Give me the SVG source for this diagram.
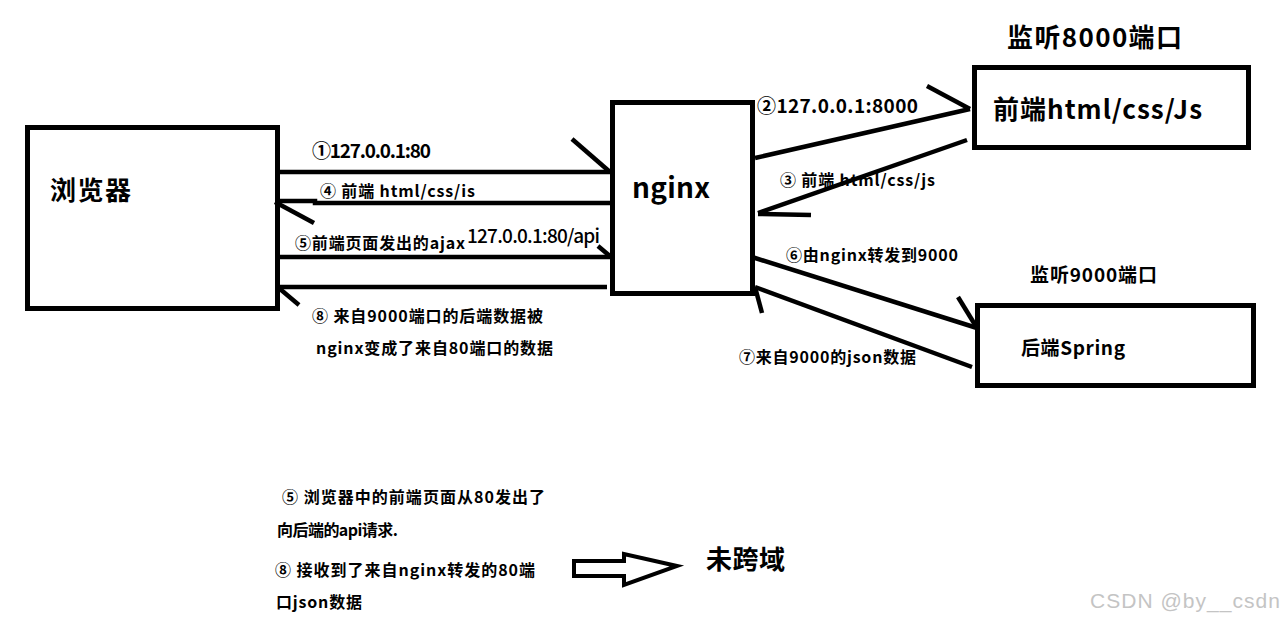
<svg xmlns="http://www.w3.org/2000/svg" width="1284" height="621" viewBox="0 0 1284 621">
<style>
.box{fill:#fff;stroke:#000;stroke-width:5}
.ln{fill:none;stroke:#000;stroke-width:4.5;stroke-linecap:butt}
text{font-family:"Noto Sans CJK SC","Microsoft YaHei",sans-serif;font-weight:bold;fill:#000}
.s{font-size:16px}
.m{font-size:19px}
.l{font-size:26px}
.wm{font-family:"Liberation Sans",Arial,sans-serif;font-weight:normal;font-size:21px;fill:#c4c4c4}
</style>
<rect width="1284" height="621" fill="#fff"/>
<g id="browser">
<rect class="box" x="27.5" y="127.5" width="250" height="181"/>
<text class="l" x="50" y="200" textLength="81">浏览器</text>
</g>
<g id="nginx">
<rect class="box" x="612.5" y="102.5" width="140" height="191"/>
<text style="font-size:28px" x="632" y="198" textLength="78">nginx</text>
</g>
<g id="frontend">
<text class="l" x="1007" y="47" textLength="175">监听8000端口</text>
<rect class="box" x="974.5" y="67.5" width="274" height="80"/>
<text class="l" x="993" y="119" textLength="209">前端html/css/Js</text>
</g>
<g id="backend">
<text class="m" x="1030" y="282" textLength="127">监听9000端口</text>
<rect class="box" x="977.5" y="305.5" width="276" height="80"/>
<text class="m" x="1021" y="355" textLength="104">后端Spring</text>
</g>
<g id="connectors">
<line class="ln" x1="280" y1="172" x2="610" y2="172"/>
<line class="ln" x1="572" y1="139" x2="610" y2="172"/>
<polyline class="ln" points="275,201 315,201 315,203 610,203"/>
<line class="ln" x1="275" y1="202" x2="314" y2="223"/>
<line class="ln" x1="280" y1="257" x2="610" y2="257"/>
<line class="ln" x1="598" y1="246" x2="611" y2="257"/>
<line class="ln" x1="280" y1="287" x2="607" y2="287"/>
<line class="ln" x1="280" y1="289" x2="299" y2="305"/>
<line class="ln" x1="755" y1="158" x2="970" y2="109"/>
<line class="ln" x1="927" y1="86" x2="970" y2="109"/>
<line class="ln" x1="967" y1="140" x2="758" y2="213"/>
<line class="ln" x1="758" y1="214" x2="811" y2="215"/>
<line class="ln" x1="752" y1="257" x2="977" y2="328"/>
<line class="ln" x1="958" y1="297" x2="977" y2="328"/>
<line class="ln" x1="972" y1="367" x2="755" y2="287"/>
<line class="ln" x1="755" y1="287" x2="762" y2="313"/>
</g>
<g id="labels">
<text class="m" x="312" y="158" textLength="119">①127.0.0.1:80</text>
<text class="s" x="320" y="197" textLength="155">④ 前端 html/css/is</text>
<text class="s" x="295" y="249" textLength="170">⑤前端页面发出的ajax</text>
<text class="m" x="467" y="243" textLength="133" style="font-weight:500">127.0.0.1:80/api</text>
<text class="s" x="312" y="322" textLength="231">⑧ 来自9000端口的后端数据被</text>
<text class="s" x="316" y="354" textLength="237">nginx变成了来自80端口的数据</text>
<text class="m" x="757" y="113" textLength="161">②127.0.0.1:8000</text>
<text class="s" x="780" y="186" textLength="155">③ 前端 html/css/js</text>
<text class="s" x="786" y="261" textLength="172">⑥由nginx转发到9000</text>
<text class="s" x="739" y="363" textLength="177">⑦来自9000的json数据</text>
</g>
<g id="notes">
<text class="s" x="282" y="503" textLength="263">⑤ 浏览器中的前端页面从80发出了</text>
<text class="s" x="277" y="536" textLength="121">向后端的api请求.</text>
<text class="s" x="275" y="576" textLength="260">⑧ 接收到了来自nginx转发的80端</text>
<text class="s" x="276" y="608" textLength="86">口json数据</text>
</g>
<g id="result">
<polygon class="ln" points="574,561 624,561 624,554 677,566 624,585 624,576 574,576" style="stroke-width:4"/>
<text class="l" x="706" y="569" textLength="79">未跨域</text>
</g>
<text class="wm" x="1090" y="608" textLength="190">CSDN @by__csdn</text>
</svg>
